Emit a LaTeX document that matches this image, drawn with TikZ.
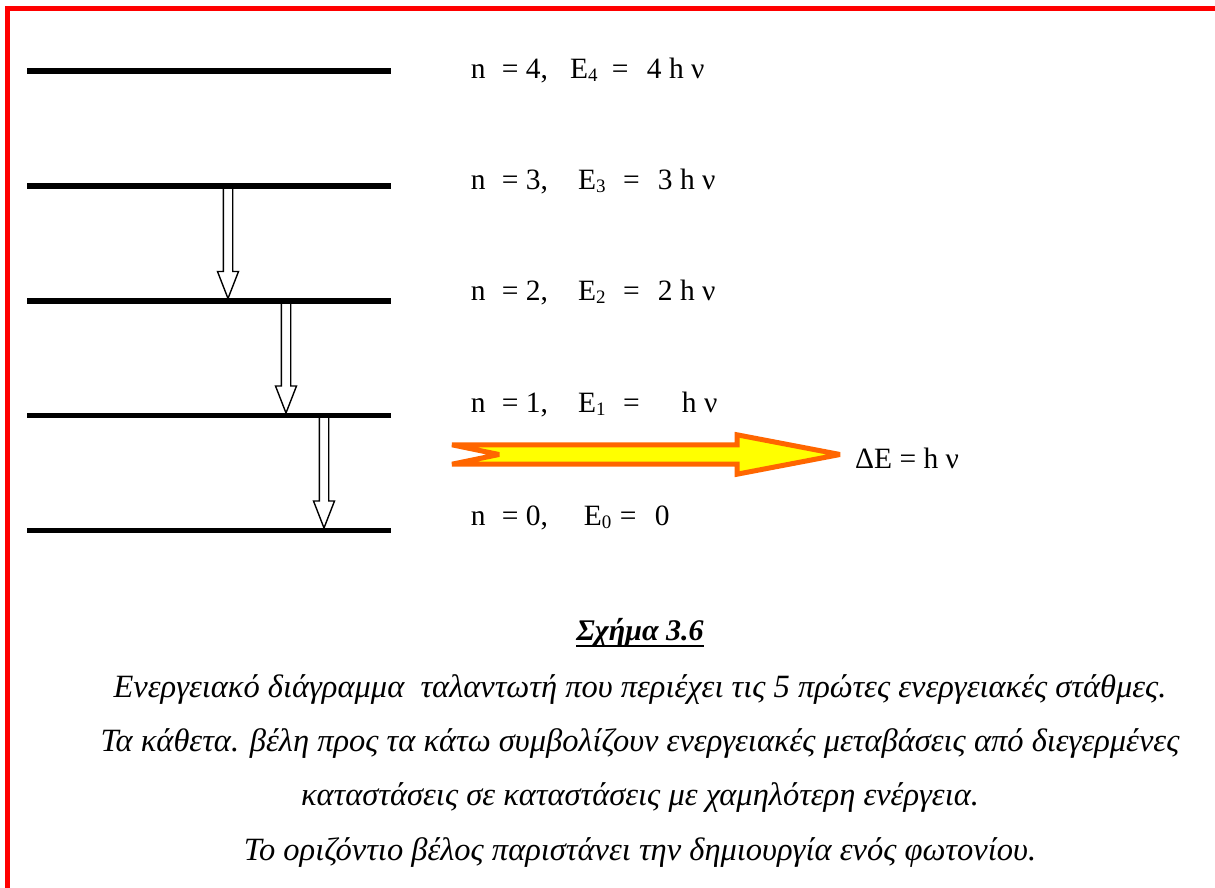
\documentclass[tikz,border=0pt]{standalone}
\usepackage{fontspec}
\setmainfont{Liberation Serif}
\usetikzlibrary{positioning}

\definecolor{framered}{HTML}{FF0000}
\definecolor{photonorange}{HTML}{FF6600}
\definecolor{photonyellow}{HTML}{FFFF00}

\tikzset{
  level/.style={line width=5.5pt},
  lab/.style={inner sep=0pt, anchor=base west, font=\fontsize{29.5}{35}\selectfont},
  caption/.style={inner sep=0pt, anchor=base, font=\fontsize{32.5}{38}\selectfont\itshape},
  hollow/.style={draw=black, fill=white, line width=1.4pt, line join=miter},
}

% subscript digit of E
\newcommand{\esub}[1]{\raisebox{-3pt}{\fontsize{19}{19}\selectfont #1}}
% one level label: k, width to E, width of E box, width of = box, right side
\newcommand{\levlabel}[5]{\makebox[31pt][l]{n}\makebox[#2][l]{= #1,}\makebox[#3][l]{E\esub{#1}}\makebox[#4][l]{=}#5}
% hollow down arrow: x, top y, bottom y
\newcommand{\droparrow}[3]{%
  \draw[hollow] (#1-4.7,#2) -- (#1-4.7,#3-29.5) -- (#1-10.5,#3-29.5) -- (#1,#3-2.5)
    -- (#1+10.5,#3-29.5) -- (#1+4.7,#3-29.5) -- (#1+4.7,#2) -- cycle;}

\begin{document}
\begin{tikzpicture}[x=1pt, y=-1pt]

    \useasboundingbox (0,0) rectangle (1215,888);
    \fill[white] (0,0) rectangle (1215,888);

    % frame
    \draw[framered, line width=5.3pt] (7.3,895) -- (7.3,8.3) -- (1218,8.3) -- (1218,895);

    % transitions
    \droparrow{228}{186}{301}
    \droparrow{286}{301}{415.5}
    \droparrow{324}{415.5}{530.5}

    % energy levels
    \foreach \k/\y in {4/71, 3/186, 2/301, 1/415.5, 0/530.5}{
        \coordinate (lev\k) at (27,\y);
        \draw[level] (lev\k) -- ++(364,0);
    }

    \node[lab] (lab4) at (470.7,79)  {\levlabel{4}{68.3pt}{41.7pt}{35pt}{4 h ν}};
    \node[lab] (lab3) at (470.7,189) {\levlabel{3}{76.3pt}{45pt}{34.7pt}{3 h ν}};
    \node[lab] (lab2) at (470.7,300) {\levlabel{2}{76.3pt}{45pt}{34.7pt}{2 h ν}};
    \node[lab] (lab1) at (470.7,412) {\levlabel{1}{76.3pt}{45pt}{58.7pt}{h ν}};
    \node[lab] (lab0) at (470.7,525) {\levlabel{0}{82pt}{36pt}{35pt}{0}};

    % photon
    \draw[photonorange, fill=photonyellow, line width=5pt, line join=miter, miter limit=3]
        (452,444.8) -- (737,444.8) -- (737,434.8) -- (840,454.5) -- (737,474.2)
        -- (737,464.2) -- (452,464.2) -- (499,454.5) -- cycle;
    \coordinate (tip) at (840,454.5);
    \node[lab] (de) at (855,468) {ΔE = h ν};

    % caption
    \node[caption, font=\fontsize{30}{36}\selectfont\bfseries\itshape] (title) at (640,640) {Σχήμα 3.6};
    \draw[line width=2.5pt] ([yshift=-6pt]title.base west) -- ([yshift=-6pt]title.base east);

    \node[caption] (cap1) at (640,697) {Ενεργειακό διάγραμμα\ \ ταλαντωτή που περιέχει τις 5 πρώτες ενεργειακές στάθμες.};
    \node[caption] (cap2) at (640,751.5) {Τα κάθετα. βέλη προς τα κάτω συμβολίζουν ενεργειακές μεταβάσεις από διεγερμένες};
    \node[caption] (cap3) at (640,805.5) {καταστάσεις σε καταστάσεις με χαμηλότερη ενέργεια.};
    \node[caption] (cap4) at (640,860) {Το οριζόντιο βέλος παριστάνει την δημιουργία ενός φωτονίου.};

\end{tikzpicture}
\end{document}
